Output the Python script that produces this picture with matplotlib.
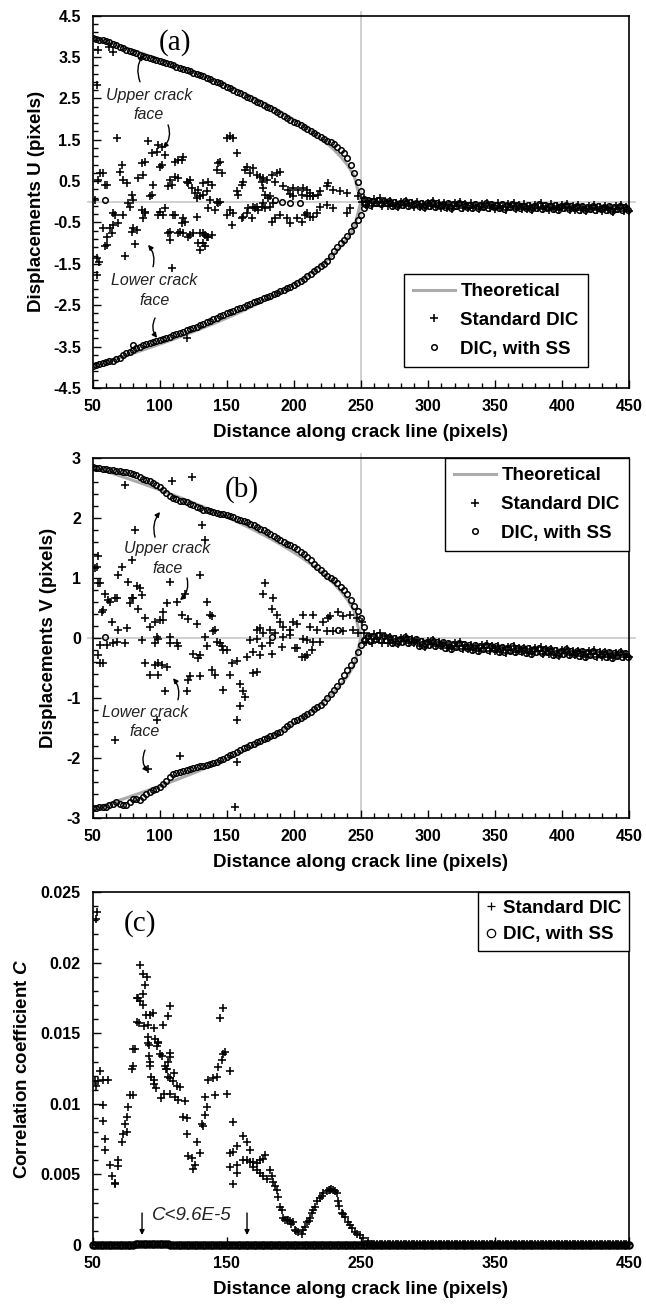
import numpy as np
import matplotlib
matplotlib.use("Agg")
import matplotlib.pyplot as plt
from matplotlib.ticker import AutoMinorLocator, MultipleLocator, FuncFormatter

plt.rcParams['font.family'] = ['Liberation Sans', 'DejaVu Sans']
plt.rcParams['mathtext.fontset'] = 'custom'
plt.rcParams['mathtext.bfit'] = 'Liberation Sans:bold:italic'

# ---------------------------------------------------------------- DATA
# (a) displacement U -- DIC with subset splitting, upper / lower crack face (x = 50, 52.5, ...)
u_ss_up = [3.97, 3.93, 3.91, 3.90, 3.89, 3.86, 3.82, 3.78, 3.75, 3.71, 3.68, 3.65, 3.62, 3.59,
           3.56, 3.53, 3.50, 3.47, 3.45, 3.42, 3.40, 3.38, 3.35, 3.33, 3.30, 3.27, 3.24, 3.21,
           3.18, 3.15, 3.12, 3.09, 3.06, 3.03, 3.00, 2.97, 2.93, 2.90, 2.86, 2.82, 2.78, 2.74,
           2.70, 2.66, 2.62, 2.58, 2.54, 2.50, 2.46, 2.42, 2.38, 2.34, 2.30, 2.26, 2.21, 2.16,
           2.12, 2.07, 2.03, 1.98, 1.94, 1.90, 1.86, 1.81, 1.77, 1.72, 1.67, 1.62, 1.57, 1.52,
           1.48, 1.45, 1.40, 1.33, 1.25, 1.17, 1.07, 0.90, 0.70, 0.48, 0.25, 0.06]
u_ss_low = [-3.96, -3.94, -3.91, -3.89, -3.87, -3.86, -3.84, -3.80, -3.77, -3.70, -3.65, -3.62,
            -3.58, -3.54, -3.50, -3.47, -3.44, -3.41, -3.38, -3.36, -3.34, -3.32, -3.29, -3.26,
            -3.23, -3.20, -3.17, -3.14, -3.11, -3.08, -3.05, -3.02, -2.98, -2.95, -2.91, -2.88,
            -2.84, -2.80, -2.77, -2.73, -2.69, -2.66, -2.63, -2.60, -2.57, -2.54, -2.50, -2.47,
            -2.43, -2.40, -2.37, -2.33, -2.30, -2.27, -2.23, -2.20, -2.16, -2.13, -2.09, -2.06,
            -2.02, -1.97, -1.91, -1.86, -1.80, -1.74, -1.68, -1.62, -1.56, -1.50, -1.43, -1.32,
            -1.20, -1.09, -1.00, -0.92, -0.83, -0.70, -0.56, -0.45, -0.33, -0.14]
u_ss_out_x = [59.2, 80.2, 186.0, 191.0, 197.0, 204.6]
u_ss_out = [0.05, -3.46, 0.05, 0.00, -0.02, -0.02]
# band ahead of the crack tip (x = 253, 255, ... 449)
u_ss_tail = [-0.05, 0.04, -0.07, 0.02, -0.03, 0.05, -0.06, 0.03, -0.04, 0.01,
             -0.09, 0.00, -0.11, -0.02, -0.07, 0.01, -0.10, -0.01, -0.08, -0.03,
             -0.11, -0.02, -0.13, -0.04, -0.09, -0.01, -0.12, -0.03, -0.10, -0.05,
             -0.13, -0.04, -0.15, -0.06, -0.11, -0.03, -0.14, -0.05, -0.12, -0.07,
             -0.14, -0.05, -0.16, -0.07, -0.12, -0.04, -0.15, -0.06, -0.13, -0.08,
             -0.15, -0.06, -0.17, -0.08, -0.13, -0.05, -0.16, -0.07, -0.14, -0.09,
             -0.16, -0.07, -0.18, -0.09, -0.14, -0.06, -0.17, -0.08, -0.15, -0.10,
             -0.17, -0.08, -0.19, -0.10, -0.15, -0.07, -0.18, -0.09, -0.16, -0.11,
             -0.19, -0.10, -0.21, -0.12, -0.17, -0.09, -0.20, -0.11, -0.18, -0.13,
             -0.20, -0.11, -0.22, -0.13, -0.18, -0.10, -0.21, -0.12, -0.19]

# theoretical solution, x = 50, 55, ... 250
u_theory = [3.974, 3.924, 3.873, 3.822, 3.770, 3.717, 3.664, 3.610, 3.554, 3.498, 3.441,
            3.384, 3.325, 3.265, 3.204, 3.142, 3.078, 3.013, 2.947, 2.879, 2.810, 2.739,
            2.666, 2.591, 2.513, 2.434, 2.351, 2.265, 2.177, 2.084, 1.987, 1.885, 1.777,
            1.662, 1.539, 1.405, 1.257, 1.088, 0.889, 0.628, 0.0]

# standard DIC, scattered values behind the tip
u_dic = [(53.0, 2.83), (54.2, 3.67), (62.0, 3.75), (65.5, 3.62), (67.9, 1.54), (91.5, 1.46),
         (99.0, 1.37), (101.4, 1.33), (94.0, 1.17), (97.7, 1.21), (103.9, 1.13), (100.2, 0.85),
         (101.4, 0.89), (117.6, 1.09), (116.4, 1.01), (111.4, 0.97), (113.9, 1.01), (57.9, 0.69),
         (71.6, 0.89), (70.4, 0.73), (72.9, 0.53), (75.3, 0.45), (60.4, 0.41), (79.1, 0.17),
         (80.3, 0.05), (86.5, 0.93), (89.0, 0.97), (84.0, 0.57), (87.8, 0.65), (95.2, 0.41),
         (94.0, 0.17), (92.7, 0.13), (107.7, 0.53), (108.9, 0.41), (106.4, 0.37), (113.9, 0.57),
         (111.4, 0.61), (120.0, 0.49), (122.6, 0.53), (121.3, 0.45), (132.5, 0.45), (136.2, 0.49),
         (138.7, 0.41), (135.0, 0.25), (132.5, 0.17), (130.0, 0.13), (127.5, 0.09), (123.8, 0.33),
         (126.3, 0.21), (128.8, 0.29), (143.7, 0.93), (142.5, 0.77), (146.2, 0.69), (145.0, 0.97),
         (149.9, 1.54), (152.4, 1.58), (154.9, 1.54), (157.4, 1.17), (163.6, 0.77), (164.8, 0.85),
         (169.8, 0.81), (172.3, 0.65), (167.3, 0.69), (162.4, 0.49), (161.1, 0.41), (158.6, 0.17),
         (157.4, 0.25), (174.8, 0.61), (177.3, 0.57), (179.8, 0.53), (176.0, 0.49), (183.5, 0.65),
         (187.2, 0.69), (189.7, 0.73), (186.0, 0.49), (177.3, 0.33), (178.5, 0.17), (181.0, 0.09),
         (182.2, 0.13), (192.0, 0.37), (196.0, 0.29), (199.6, 0.33), (203.4, 0.29), (207.0, 0.33),
         (209.6, 0.29), (212.0, 0.21), (214.6, 0.13), (218.3, 0.17), (197.1, 0.20), (199.6, 0.13),
         (205.9, 0.17), (209.6, 0.13), (212.0, 0.13), (55.4, 0.69), (59.2, 0.41), (54.2, 0.53),
         (214.5, 0.13), (219.5, 0.25), (224.5, 0.37), (229.5, 0.29), (234.4, 0.25), (239.4, 0.21),
         (225.7, 0.45), (248.0, 0.13), (250.6, 0.00), (52.0, 0.05),
         (57.9, -0.64), (62.9, -0.64), (69.1, -0.52), (65.4, -0.56), (60.4, -0.84), (59.2, -1.06),
         (66.6, -0.32), (72.9, -0.32), (65.4, -0.28), (76.6, -0.04), (77.8, -0.12), (80.3, -0.64),
         (82.8, -0.68), (79.1, -0.72), (81.6, -1.02), (86.5, -0.20), (89.0, -0.28), (87.8, -0.40),
         (99.0, -0.32), (100.2, -0.24), (103.9, -0.16), (107.7, -0.72), (106.4, -0.76),
         (107.7, -0.92), (111.4, -0.32), (117.6, -0.40), (118.8, -0.48), (113.9, -0.76),
         (117.6, -0.76), (121.3, -0.84), (122.6, -0.80), (127.5, -0.36), (130.0, -0.76),
         (133.8, -0.80), (136.2, -0.84), (138.7, -0.80), (132.5, -1.00), (133.8, -1.08),
         (136.0, -0.16), (137.5, 0.05), (141.0, -0.20), (142.5, 0.00), (143.7, -0.04), (145.0, 0.00),
         (150.0, -0.32), (152.4, -0.20), (154.9, -0.28), (153.6, -0.56), (161.1, -0.40),
         (162.4, -0.36), (164.8, -0.28), (168.6, -0.40), (172.3, -0.12), (173.5, -0.20),
         (176.0, -0.12), (177.3, -0.04), (178.5, -0.16), (182.2, -0.12), (184.7, -0.04),
         (183.5, -0.48), (186.0, -0.40), (189.7, -0.32), (194.7, -0.40), (197.1, -0.52),
         (202.1, -0.40), (205.9, -0.48), (208.3, -0.32), (212.0, -0.36), (217.0, -0.28),
         (166.0, -0.16), (169.8, -0.12), (171.0, -0.14), (53.5, -1.37), (54.7, -1.45), (53.0, -1.77),
         (60.4, -1.04), (64.1, -0.76), (74.1, -1.32), (102.7, -0.32), (110.1, -0.32), (89.0, -0.24),
         (115.1, -0.72), (116.4, -0.52), (109.0, -1.61), (125.1, -0.76), (132.5, -0.76),
         (135.0, -0.86), (128.8, -1.00), (130.0, -1.16), (120.1, -3.30), (209.6, -0.28),
         (214.5, -0.36), (219.5, -0.12), (224.5, -0.08), (229.5, -0.16), (239.4, -0.28),
         (241.9, -0.16)]
# standard DIC ahead of the tip, x = 252, 254, ... 450
u_dic_tail = [0.08, -0.08, 0.02, -0.11, 0.06, -0.04, 0.09, -0.09, 0.03, -0.10,
              0.02, -0.10, -0.03, -0.13, 0.00, -0.07, 0.03, -0.11, -0.02, -0.12,
              0.00, -0.12, -0.05, -0.15, -0.02, -0.09, 0.01, -0.13, -0.04, -0.14,
              -0.02, -0.14, -0.07, -0.17, -0.04, -0.11, -0.01, -0.15, -0.06, -0.16,
              -0.03, -0.15, -0.08, -0.18, -0.05, -0.12, -0.02, -0.16, -0.07, -0.17,
              -0.04, -0.16, -0.09, -0.19, -0.06, -0.13, -0.03, -0.17, -0.08, -0.18,
              -0.05, -0.17, -0.10, -0.20, -0.07, -0.14, -0.04, -0.18, -0.09, -0.19,
              -0.06, -0.18, -0.11, -0.21, -0.08, -0.15, -0.05, -0.19, -0.10, -0.20,
              -0.08, -0.20, -0.13, -0.23, -0.10, -0.17, -0.07, -0.21, -0.12, -0.22,
              -0.09, -0.21, -0.14, -0.24, -0.11, -0.18, -0.08, -0.22, -0.13, -0.23]

# (b) displacement V
v_ss_up = [2.85, 2.84, 2.83, 2.82, 2.81, 2.80, 2.80, 2.79, 2.78, 2.77, 2.76, 2.75, 2.73, 2.71,
           2.68, 2.65, 2.63, 2.61, 2.58, 2.55, 2.52, 2.47, 2.42, 2.37, 2.33, 2.31, 2.29, 2.28,
           2.26, 2.24, 2.21, 2.18, 2.16, 2.14, 2.13, 2.11, 2.10, 2.09, 2.07, 2.06, 2.05, 2.03,
           2.01, 1.99, 1.97, 1.95, 1.93, 1.90, 1.88, 1.85, 1.82, 1.80, 1.77, 1.73, 1.70, 1.66,
           1.63, 1.60, 1.57, 1.55, 1.52, 1.48, 1.44, 1.40, 1.35, 1.30, 1.24, 1.18, 1.13, 1.09,
           1.04, 1.00, 0.96, 0.91, 0.85, 0.80, 0.74, 0.64, 0.54, 0.45, 0.33, 0.19]
v_ss_low = [-2.84, -2.83, -2.82, -2.82, -2.81, -2.79, -2.76, -2.74, -2.76, -2.78, -2.79, -2.73,
            -2.68, -2.69, -2.70, -2.65, -2.60, -2.56, -2.53, -2.51, -2.48, -2.44, -2.39, -2.32,
            -2.26, -2.25, -2.23, -2.22, -2.20, -2.18, -2.17, -2.15, -2.14, -2.13, -2.11, -2.10,
            -2.09, -2.06, -2.04, -2.01, -1.98, -1.95, -1.93, -1.90, -1.87, -1.84, -1.82, -1.79,
            -1.76, -1.74, -1.72, -1.69, -1.67, -1.64, -1.61, -1.59, -1.56, -1.51, -1.47, -1.43,
            -1.39, -1.36, -1.33, -1.30, -1.27, -1.23, -1.19, -1.15, -1.11, -1.06, -1.00, -0.94,
            -0.87, -0.80, -0.72, -0.62, -0.53, -0.45, -0.36, -0.23, -0.12, -0.04]
v_ss_out_x = [59.2, 183.5, 233.2]
v_ss_out = [0.02, 0.02, 0.13]
v_ss_tail = [-0.04, 0.04, -0.05, 0.03, -0.02, 0.05, -0.04, 0.03, -0.03, 0.02,
             -0.08, 0.00, -0.09, -0.01, -0.06, 0.01, -0.08, -0.01, -0.07, -0.02,
             -0.13, -0.05, -0.14, -0.06, -0.11, -0.04, -0.13, -0.06, -0.12, -0.07,
             -0.17, -0.09, -0.18, -0.10, -0.15, -0.08, -0.17, -0.10, -0.16, -0.11,
             -0.20, -0.12, -0.21, -0.13, -0.18, -0.11, -0.20, -0.13, -0.19, -0.14,
             -0.23, -0.15, -0.24, -0.16, -0.21, -0.14, -0.23, -0.16, -0.22, -0.17,
             -0.25, -0.17, -0.26, -0.18, -0.23, -0.16, -0.25, -0.18, -0.24, -0.19,
             -0.28, -0.20, -0.29, -0.21, -0.26, -0.19, -0.28, -0.21, -0.27, -0.22,
             -0.30, -0.22, -0.31, -0.23, -0.28, -0.21, -0.30, -0.23, -0.29, -0.24,
             -0.32, -0.24, -0.33, -0.25, -0.30, -0.23, -0.32, -0.25, -0.31]
v_theory = [2.850, 2.814, 2.777, 2.741, 2.703, 2.666, 2.627, 2.588, 2.549, 2.509, 2.468,
            2.426, 2.384, 2.341, 2.297, 2.253, 2.207, 2.161, 2.113, 2.065, 2.015, 1.964,
            1.912, 1.858, 1.802, 1.745, 1.686, 1.624, 1.561, 1.494, 1.425, 1.352, 1.274,
            1.192, 1.104, 1.008, 0.901, 0.780, 0.637, 0.451, 0.0]
v_dic = [(74.1, 2.55), (109.0, 2.61), (124.0, 2.69), (81.6, 1.80), (131.5, 1.88), (134.0, 1.63),
         (79.1, 1.30), (71.6, 1.19), (69.1, 1.05), (54.2, 1.36), (53.0, 1.19), (54.2, 0.91),
         (59.2, 0.74), (62.9, 0.60), (66.6, 0.66), (76.6, 0.94), (82.8, 0.86), (86.5, 0.72),
         (77.8, 0.58), (79.1, 0.66), (84.1, 0.49), (56.6, 0.44), (64.1, 0.27), (69.1, 0.13),
         (75.3, 0.16), (107.7, 0.94), (130.0, 1.05), (105.2, 0.58), (112.6, 0.60), (118.8, 0.74),
         (102.7, 0.44), (116.4, 0.38), (121.3, 0.31), (127.5, 0.24), (135.0, 0.60), (137.5, 0.38),
         (140.0, 0.11), (92.7, 0.19), (96.5, 0.27), (102.7, 0.30), (178.5, 0.91), (177.3, 0.74),
         (184.7, 0.66), (183.5, 0.49), (187.2, 0.38), (189.7, 0.27), (192.2, 0.19), (197.1, 0.13),
         (207.1, 0.38), (202.1, 0.24), (212.0, 0.19), (172.3, 0.13), (177.3, 0.08), (51.7, 1.16),
         (55.5, 0.91), (61.7, 0.63), (67.9, 0.66), (57.9, 0.47), (80.3, 0.66), (85.3, 0.83),
         (89.0, 0.33), (100.2, 0.30), (138.7, 0.36), (141.2, 0.13), (174.8, 0.16), (182.2, 0.13),
         (186.0, 0.08), (199.6, 0.27), (214.6, 0.38), (222.0, 0.27), (225.7, 0.33), (192.2, 0.02),
         (197.1, 0.05), (224.5, 0.11), (227.0, 0.36), (233.2, 0.44), (236.9, 0.36), (241.9, 0.38),
         (246.9, 0.33), (250.6, 0.27), (217.0, 0.13), (229.5, 0.11), (236.9, 0.11), (244.4, 0.13),
         (248.1, 0.08), (133.8, 0.02), (107.7, 0.02),
         (67.9, -0.06), (74.1, -0.09), (65.4, -0.09), (60.4, -0.12), (86.5, -0.03), (97.7, 0.02),
         (107.7, -0.09), (112.6, -0.09), (55.4, -0.12), (54.2, -0.28), (55.4, -0.42), (145.0, -0.09),
         (147.4, -0.20), (182.2, -0.09), (190.9, -0.15), (200.8, -0.17), (205.8, -0.31),
         (213.3, -0.20), (219.5, -0.06), (99.0, -0.01), (96.5, -0.09), (113.9, -0.14), (57.9, -0.42),
         (125.1, -0.26), (128.8, -0.34), (130.0, -0.28), (142.5, -0.06), (146.2, -0.14),
         (135.0, -0.14), (89.0, -0.42), (96.5, -0.45), (99.0, -0.42), (101.4, -0.45), (105.2, -0.48),
         (92.7, -0.62), (99.0, -0.62), (103.9, -0.89), (120.1, -0.89), (122.6, -0.64), (130.0, -0.64),
         (121.3, -0.70), (138.7, -0.53), (141.2, -0.62), (152.4, -0.62), (147.4, -0.87),
         (149.9, -0.20), (153.6, -0.42), (157.4, -0.39), (159.9, -0.76), (162.4, -0.89),
         (163.6, -0.98), (159.9, -1.14), (157.4, -1.37), (164.8, -0.31), (169.8, -0.59),
         (172.3, -0.56), (167.3, -0.03), (172.3, -0.01), (169.8, -0.23), (174.8, -0.28),
         (176.0, -0.14), (183.5, -0.26), (202.1, -0.17), (209.6, -0.28), (207.1, -0.01),
         (209.6, -0.03), (214.5, -0.06), (208.3, -0.31), (97.7, -1.37), (66.6, -1.70),
         (115.1, -1.97), (157.4, -2.06), (91.5, -2.19), (156.1, -2.81)]
v_dic_tail = [0.08, -0.06, 0.03, -0.09, 0.06, -0.02, 0.09, -0.08, 0.03, -0.08,
              0.01, -0.08, -0.02, -0.10, 0.00, -0.05, 0.02, -0.09, -0.02, -0.09,
              -0.04, -0.13, -0.07, -0.15, -0.05, -0.10, -0.03, -0.14, -0.07, -0.14,
              -0.08, -0.17, -0.11, -0.19, -0.09, -0.14, -0.07, -0.18, -0.11, -0.18,
              -0.11, -0.20, -0.14, -0.22, -0.12, -0.17, -0.10, -0.21, -0.14, -0.21,
              -0.14, -0.23, -0.17, -0.25, -0.15, -0.20, -0.13, -0.24, -0.17, -0.24,
              -0.16, -0.25, -0.19, -0.27, -0.17, -0.22, -0.15, -0.26, -0.19, -0.26,
              -0.19, -0.28, -0.22, -0.30, -0.20, -0.25, -0.18, -0.29, -0.22, -0.29,
              -0.21, -0.30, -0.24, -0.32, -0.22, -0.27, -0.20, -0.31, -0.24, -0.31,
              -0.24, -0.32, -0.26, -0.33, -0.25, -0.29, -0.23, -0.32, -0.27, -0.31]

# (c) correlation coefficient, standard DIC
c_dic = [(53.0, 0.0236), (52.6, 0.0231), (51.7, 0.0116), (54.2, 0.0116), (61.7, 0.0117),
         (55.4, 0.0123), (52.6, 0.0113), (57.5, 0.0117), (57.9, 0.0099), (57.9, 0.0088),
         (59.2, 0.0075), (59.2, 0.0067), (62.9, 0.0057), (69.1, 0.0060), (69.1, 0.0056),
         (64.2, 0.0049), (66.6, 0.0044), (66.6, 0.0043), (71.6, 0.0073), (72.9, 0.0079),
         (75.3, 0.0080), (74.1, 0.0086), (75.3, 0.0091), (76.6, 0.0098), (77.8, 0.0106),
         (79.1, 0.0125), (80.3, 0.0127), (80.3, 0.0139), (81.6, 0.0139), (80.0, 0.0106),
         (85.3, 0.0198), (87.8, 0.0192), (90.3, 0.0190), (89.0, 0.0184), (87.8, 0.0178),
         (82.8, 0.0175), (85.3, 0.0173), (87.8, 0.0170), (82.8, 0.0158), (91.5, 0.0156),
         (92.7, 0.0163), (95.2, 0.0164), (96.5, 0.0146), (99.0, 0.0143), (97.7, 0.0141),
         (100.2, 0.0135), (101.4, 0.0134), (103.9, 0.0127), (105.2, 0.0125), (107.7, 0.0118),
         (110.1, 0.0116), (112.6, 0.0113), (115.1, 0.0112), (111.4, 0.0105), (113.9, 0.0103),
         (118.8, 0.0102), (117.6, 0.0091), (120.1, 0.0090), (120.1, 0.0079), (121.3, 0.0063),
         (123.8, 0.0062), (126.3, 0.0057), (125.1, 0.0054), (127.5, 0.0073), (130.0, 0.0065),
         (107.4, 0.0169), (106.2, 0.0162), (102.2, 0.0156), (96.0, 0.0154), (98.5, 0.0144),
         (132.5, 0.0084), (131.3, 0.0086), (133.8, 0.0092), (135.0, 0.0098), (133.8, 0.0105),
         (140.0, 0.0118), (142.5, 0.0119), (143.7, 0.0126), (146.2, 0.0131), (147.4, 0.0135),
         (148.7, 0.0137), (149.9, 0.0107), (152.4, 0.0123), (145.0, 0.0161), (147.4, 0.0168),
         (141.2, 0.0106), (136.2, 0.0117), (154.4, 0.0087), (152.4, 0.0065), (154.9, 0.0066),
         (157.4, 0.0070), (152.4, 0.0055), (157.4, 0.0057), (154.9, 0.0043), (157.4, 0.0051),
         (162.4, 0.0077), (164.8, 0.0073), (167.3, 0.0067), (162.4, 0.0060), (164.8, 0.0060),
         (167.3, 0.0059), (169.8, 0.0059), (172.3, 0.0058), (174.8, 0.0060), (177.3, 0.0061),
         (178.5, 0.0064), (169.8, 0.0055), (172.3, 0.0053), (174.8, 0.0051), (177.3, 0.0049),
         (179.8, 0.0047), (182.2, 0.0053), (183.5, 0.0049), (184.7, 0.0045), (186.0, 0.0042),
         (187.2, 0.0039), (188.5, 0.0034), (189.7, 0.0027), (190.9, 0.0025), (192.2, 0.0019),
         (194.7, 0.0018), (197.1, 0.0017), (199.6, 0.0016), (200.9, 0.0011), (203.4, 0.0009),
         (205.9, 0.0008), (207.1, 0.0011), (209.6, 0.0016), (212.1, 0.0019), (213.3, 0.0023),
         (215.8, 0.0027), (217.0, 0.0031), (219.5, 0.0033), (222.0, 0.0037), (224.5, 0.0038),
         (227.0, 0.0039), (229.5, 0.0039), (232.0, 0.0037), (233.2, 0.0031), (235.7, 0.0023),
         (238.2, 0.0020), (240.7, 0.0016), (243.1, 0.0012), (245.6, 0.0009), (249.4, 0.0007),
         (251.8, 0.0005), (255.6, 0.0003), (110.3, 0.0122), (106.0, 0.0119), (108.0, 0.0136),
         (108.0, 0.0133), (106.0, 0.0130), (105.0, 0.0125), (108.0, 0.0107), (103.0, 0.0107),
         (100.7, 0.0104), (95.5, 0.0117), (96.0, 0.0114), (97.0, 0.0111), (91.0, 0.0147),
         (91.5, 0.0143), (92.0, 0.0142), (91.8, 0.0134), (92.5, 0.0130), (92.8, 0.0127),
         (93.5, 0.0119), (84.1, 0.0175), (84.5, 0.0157), (88.2, 0.0155), (90.0, 0.0163),
         (221.0, 0.0035), (226.0, 0.0039), (228.0, 0.0040), (231.0, 0.0038), (234.0, 0.0028),
         (237.0, 0.0022), (242.0, 0.0014), (247.0, 0.0008), (214.6, 0.0025), (211.0, 0.0017),
         (208.0, 0.0013), (202.0, 0.0010), (198.0, 0.0015), (195.9, 0.0018), (193.5, 0.0018)]
c_dic_tail_level = 0.00005      # x = 258 ... 450, flat
c_ss_level = 0.0                # DIC with SS, whole line
c_ss_raised = 0.00009           # slight rise between x = 82 and 106 (C < 9.6E-5)

# ---------------------------------------------------------------- STYLE
GRAY_TH = '#ababab'
GRAY_REF = '#c8c8c8'
FS_LAB = 13.5
FS_TICK = 11.5
FS_LEG = 13.5
FS_NOTE = 11.5
plus_kw = dict(ls='none', marker='+', color='k', ms=6.4, mew=1.15)
circ_kw = dict(ls='none', marker='o', mfc='none', mec='k', ms=4.0, mew=1.1)

x_ss = 50 + 2.5 * np.arange(len(u_ss_up))
x_th = 50 + 5.0 * np.arange(len(u_theory))
x_ss_tail = 253 + 2.0 * np.arange(len(u_ss_tail))
x_dic_tail = 252 + 2.0 * np.arange(len(u_dic_tail))

fig = plt.figure(figsize=(6.46, 13.04), dpi=100)
ax_a = fig.add_axes([0.1435, 0.7025, 0.8302, 0.2855])
ax_b = fig.add_axes([0.1435, 0.3727, 0.8302, 0.2761])
ax_c = fig.add_axes([0.1435, 0.0452, 0.8302, 0.2707])


def style_axes(ax):
    ax.set_xlim(50, 450)
    for s in ax.spines.values():
        s.set_linewidth(1.2)
    ax.tick_params(which='both', direction='in', top=False, right=False, width=1.0)
    ax.tick_params(which='major', length=6, labelsize=FS_TICK)
    ax.tick_params(which='minor', length=3.5)
    ax.tick_params(axis='x', which='major', pad=8)
    ax.tick_params(axis='y', which='major', pad=8.5)
    for t in ax.get_xticklabels() + ax.get_yticklabels():
        t.set_fontweight('bold')
    ax.yaxis.set_major_formatter(FuncFormatter(lambda v, p: ('%g' % round(v, 4))))
    ax.set_xlabel('Distance along crack line (pixels)', fontsize=FS_LAB, fontweight='bold',
                  labelpad=7)


def crack_face_notes(ax, up_txt, low_txt, arrows):
    ax.text(*up_txt, 'Upper crack\nface', ha='center', va='center', fontsize=FS_NOTE,
            style='italic', color='#222222', linespacing=1.4)
    ax.text(*low_txt, 'Lower crack\nface', ha='center', va='center', fontsize=FS_NOTE,
            style='italic', color='#222222', linespacing=1.4)
    for (tail, head, rad) in arrows:
        ax.annotate('', xy=head, xytext=tail,
                    arrowprops=dict(arrowstyle='-|>', color='k', lw=1.0, mutation_scale=7,
                                    shrinkA=0, shrinkB=0, connectionstyle='arc3,rad=%g' % rad))


def add_legend(ax, **kw):
    opts = dict(prop=dict(weight='bold', size=FS_LEG), frameon=True, fancybox=False,
                edgecolor='k', framealpha=1, borderaxespad=0)
    opts.update(kw)
    leg = ax.legend(**opts)
    leg.get_frame().set_linewidth(1.0)
    return leg


# ------------------------------------------------------------- panel (a)
ax = ax_a
ax.plot([250, 250], [-4.5, 4.6], color=GRAY_REF, lw=1.2, clip_on=False, zorder=0)
ax.plot([46.5, 454.5], [0, 0], color=GRAY_REF, lw=1.2, clip_on=False, zorder=0)
ax.plot(x_th, u_theory, color=GRAY_TH, lw=2.2, zorder=1, label='Theoretical')
ax.plot(x_th, [-v for v in u_theory], color=GRAY_TH, lw=2.2, zorder=1)
ax.plot([p[0] for p in u_dic], [p[1] for p in u_dic], zorder=2, label='Standard DIC', **plus_kw)
ax.plot(x_dic_tail, u_dic_tail, zorder=2, clip_on=False, **plus_kw)
ax.plot(x_ss, u_ss_up, zorder=3, label='DIC, with SS', **circ_kw)
ax.plot(x_ss, u_ss_low, zorder=3, **circ_kw)
ax.plot(x_ss_tail, u_ss_tail, zorder=3, clip_on=False, **circ_kw)
ax.plot(u_ss_out_x, u_ss_out, zorder=3, **circ_kw)
ax.set_ylim(-4.5, 4.5)
ax.set_yticks(np.arange(-4.5, 4.51, 1.0))
ax.yaxis.set_minor_locator(AutoMinorLocator(5))
ax.set_xticks(np.arange(50, 451, 50))
ax.xaxis.set_minor_locator(MultipleLocator(10))
style_axes(ax)
ax.set_ylabel('Displacements U (pixels)', fontsize=FS_LAB, fontweight='bold', labelpad=6)
ax.text(111.4, 3.86, '(a)', family='Liberation Serif', fontsize=21, ha='center', va='center')
crack_face_notes(ax, (92.0, 2.34), (96.0, -2.15),
                 [((85.3, 2.90), (87.5, 3.55), -0.25), ((106.2, 1.86), (102.4, 1.30), -0.3),
                  ((95.0, -1.57), (91.3, -1.04), 0.25), ((96.5, -2.81), (98.0, -3.29), 0.3)])
add_legend(ax, loc='lower right', bbox_to_anchor=(0.9236, 0.0564), borderpad=0.5,
           handlelength=2.2, handletextpad=0.3, labelspacing=0.62)

# ------------------------------------------------------------- panel (b)
ax = ax_b
ax.plot([250, 250], [-3, 3.07], color=GRAY_REF, lw=1.2, clip_on=False, zorder=0)
ax.plot([46.5, 454.5], [0, 0], color=GRAY_REF, lw=1.2, clip_on=False, zorder=0)
ax.plot(x_th, v_theory, color=GRAY_TH, lw=2.2, zorder=1, label='Theoretical')
ax.plot(x_th, [-v for v in v_theory], color=GRAY_TH, lw=2.2, zorder=1)
ax.plot([p[0] for p in v_dic], [p[1] for p in v_dic], zorder=2, label='Standard DIC', **plus_kw)
ax.plot(x_dic_tail, v_dic_tail, zorder=2, clip_on=False, **plus_kw)
ax.plot(x_ss, v_ss_up, zorder=3, label='DIC, with SS', **circ_kw)
ax.plot(x_ss, v_ss_low, zorder=3, **circ_kw)
ax.plot(x_ss_tail, v_ss_tail, zorder=3, clip_on=False, **circ_kw)
ax.plot(v_ss_out_x, v_ss_out, zorder=3, **circ_kw)
ax.set_ylim(-3, 3)
ax.set_yticks(np.arange(-3, 3.01, 1.0))
ax.yaxis.set_minor_locator(AutoMinorLocator(5))
ax.set_xticks(np.arange(50, 451, 50))
ax.xaxis.set_minor_locator(MultipleLocator(10))
style_axes(ax)
ax.set_ylabel('Displacements V (pixels)', fontsize=FS_LAB, fontweight='bold', labelpad=7)
ax.text(161.4, 2.47, '(b)', family='Liberation Serif', fontsize=21, ha='center', va='center')
crack_face_notes(ax, (105.5, 1.33), (89.0, -1.40),
                 [((96.5, 1.68), (100.2, 2.10), -0.25), ((120.3, 1.00), (115.1, 0.63), -0.3),
                  ((113.6, -1.03), (109.9, -0.67), 0.25), ((89.0, -1.87), (91.2, -2.23), 0.3)])
add_legend(ax, loc='upper right', bbox_to_anchor=(1.0, 1.0), borderpad=0.5,
           handlelength=2.2, handletextpad=0.3, labelspacing=0.62)

# ------------------------------------------------------------- panel (c)
ax = ax_c
x_c_tail = np.arange(258, 451, 2)
x_c_ss = np.arange(50, 451, 2)
c_ss = np.where((x_c_ss >= 82) & (x_c_ss <= 106), c_ss_raised, c_ss_level)
ax.plot([p[0] for p in c_dic], [p[1] for p in c_dic], zorder=2, label='Standard DIC', **plus_kw)
ax.plot(x_c_tail, np.full(len(x_c_tail), c_dic_tail_level), zorder=2, clip_on=False, **plus_kw)
ax.plot(x_c_ss, c_ss, zorder=3, label='DIC, with SS', clip_on=False,
        **dict(circ_kw, ms=4.6, mew=1.5))
ax.set_ylim(0, 0.025)
ax.set_yticks(np.arange(0, 0.02501, 0.005))
ax.yaxis.set_minor_locator(AutoMinorLocator(5))
ax.set_xticks(np.arange(50, 451, 100))
style_axes(ax)
ax.set_ylabel('Correlation coefficient $\\mathbfit{C}$', fontsize=FS_LAB, fontweight='bold',
              labelpad=7)
ax.text(85.4, 0.0228, '(c)', family='Liberation Serif', fontsize=21, ha='center', va='center')
ax.text(124.2, 0.00212, 'C<9.6E-5', fontsize=13.5, style='italic', ha='center', va='center',
        color='#222222')
for xa in (86.8, 165.1):
    ax.annotate('', xy=(xa, 0.00071), xytext=(xa, 0.00227),
                arrowprops=dict(arrowstyle='-|>', color='k', lw=1.0, mutation_scale=7,
                                shrinkA=0, shrinkB=0))
leg = add_legend(ax, loc='upper right', bbox_to_anchor=(1.0, 1.0), borderpad=0.4,
                 handlelength=0.6, handletextpad=0.35, labelspacing=0.5)
for h in leg.legend_handles:
    h.set_markersize(6)
    h.set_markeredgewidth(0.9)

fig.savefig('out.png', dpi=100)
